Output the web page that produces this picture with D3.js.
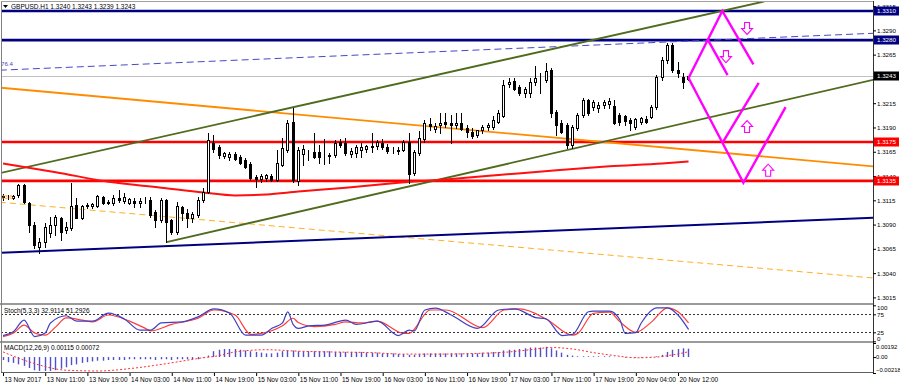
<!DOCTYPE html>
<html>
<head>
<meta charset="utf-8">
<script src="https://cdn.jsdelivr.net/npm/d3@7"></script>
<style>
body { margin: 0; background: #fff; }
svg { display: block; font-family: "Liberation Sans", Arial, sans-serif; }
</style>
</head>
<body>
<svg id="chart" width="900" height="387"></svg>
<script>
// GBPUSD H1 candles, bar 0 = 13 Nov 03:00
const opens = [1.3118,1.3118,1.3117,1.3120,1.3131,1.3112,1.3090,1.3067,1.3072,1.3081,
1.3090,1.3097,1.3084,1.3086,1.3110,1.3097,1.3109,1.3109,1.3109,1.3118,
1.3113,1.3112,1.3117,1.3114,1.3112,1.3114,1.3112,1.3115,1.3115,1.3103,
1.3095,1.3115,1.3095,1.3082,1.3108,1.3102,1.3097,1.3100,1.3115,1.3124,
1.3174,1.3170,1.3161,1.3160,1.3163,1.3160,1.3157,1.3152,1.3139,1.3137,
1.3138,1.3140,1.3136,1.3151,1.3167,1.3196,1.3135,1.3163,1.3165,1.3165,
1.3165,1.3165,1.3161,1.3162,1.3175,1.3174,1.3163,1.3164,1.3167,1.3168,
1.3171,1.3171,1.3174,1.3170,1.3167,1.3166,1.3167,1.3175,1.3143,1.3164,
1.3178,1.3194,1.3188,1.3193,1.3196,1.3195,1.3193,1.3195,1.3189,1.3185,
1.3182,1.3187,1.3191,1.3191,1.3196,1.3202,1.3235,1.3238,1.3232,1.3226,
1.3226,1.3237,1.3239,1.3239,1.3249,1.3206,1.3195,1.3193,1.3172,1.3189,
1.3203,1.3218,1.3211,1.3210,1.3213,1.3214,1.3212,1.3203,1.3202,1.3198,
1.3191,1.3196,1.3199,1.3201,1.3211,1.3242,1.3260,1.3275,1.3249,1.3242,
1.3240];
const highs = [1.3122,1.3120,1.3120,1.3132,1.3132,1.3113,1.3093,1.3076,1.3092,1.3098,
1.3100,1.3098,1.3093,1.3133,1.3117,1.3110,1.3112,1.3112,1.3120,1.3119,
1.3115,1.3120,1.3126,1.3123,1.3117,1.3117,1.3117,1.3118,1.3118,1.3105,
1.3117,1.3116,1.3096,1.3113,1.3109,1.3106,1.3103,1.3118,1.3128,1.3184,
1.3182,1.3172,1.3165,1.3165,1.3165,1.3162,1.3159,1.3154,1.3141,1.3142,
1.3142,1.3142,1.3167,1.3179,1.3198,1.3210,1.3170,1.3172,1.3167,1.3184,
1.3172,1.3178,1.3164,1.3177,1.3178,1.3179,1.3169,1.3172,1.3174,1.3172,
1.3184,1.3177,1.3178,1.3173,1.3170,1.3170,1.3177,1.3184,1.3167,1.3186,
1.3198,1.3200,1.3195,1.3205,1.3205,1.3203,1.3205,1.3205,1.3193,1.3189,
1.3187,1.3193,1.3195,1.3202,1.3208,1.3239,1.3241,1.3241,1.3234,1.3232,
1.3241,1.3253,1.3246,1.3256,1.3251,1.3208,1.3198,1.3195,1.3193,1.3205,
1.3220,1.3219,1.3218,1.3216,1.3218,1.3220,1.3218,1.3205,1.3203,1.3200,
1.3200,1.3201,1.3202,1.3213,1.3244,1.3263,1.3277,1.3277,1.3257,1.3246,
1.3243];
const lows = [1.3115,1.3116,1.3116,1.3118,1.3112,1.3082,1.3066,1.3061,1.3067,1.3077,
1.3079,1.3074,1.3081,1.3084,1.3097,1.3096,1.3107,1.3107,1.3108,1.3111,
1.3111,1.3110,1.3113,1.3112,1.3111,1.3108,1.3108,1.3112,1.3098,1.3088,
1.3093,1.3072,1.3080,1.3080,1.3095,1.3088,1.3093,1.3098,1.3113,1.3123,
1.3165,1.3159,1.3159,1.3157,1.3157,1.3152,1.3148,1.3136,1.3129,1.3134,
1.3135,1.3135,1.3135,1.3150,1.3165,1.3134,1.3131,1.3151,1.3157,1.3159,
1.3153,1.3152,1.3153,1.3160,1.3170,1.3162,1.3160,1.3160,1.3160,1.3165,
1.3165,1.3168,1.3168,1.3164,1.3164,1.3163,1.3166,1.3133,1.3141,1.3162,
1.3175,1.3187,1.3185,1.3184,1.3191,1.3174,1.3189,1.3187,1.3180,1.3179,
1.3180,1.3184,1.3187,1.3188,1.3195,1.3201,1.3232,1.3229,1.3223,1.3221,
1.3221,1.3234,1.3226,1.3237,1.3201,1.3182,1.3184,1.3169,1.3169,1.3187,
1.3201,1.3203,1.3208,1.3206,1.3210,1.3210,1.3194,1.3193,1.3193,1.3187,
1.3188,1.3194,1.3195,1.3200,1.3209,1.3239,1.3256,1.3247,1.3242,1.3231,
1.3239];
const closes = [1.3119,1.3118,1.3119,1.3131,1.3113,1.3090,1.3069,1.3072,1.3088,1.3090,
1.3098,1.3082,1.3088,1.3109,1.3097,1.3109,1.3110,1.3111,1.3119,1.3112,
1.3112,1.3117,1.3115,1.3118,1.3116,1.3112,1.3114,1.3115,1.3100,1.3095,
1.3115,1.3093,1.3082,1.3109,1.3102,1.3097,1.3101,1.3115,1.3124,1.3177,
1.3168,1.3162,1.3164,1.3163,1.3158,1.3153,1.3149,1.3138,1.3137,1.3140,
1.3141,1.3136,1.3153,1.3169,1.3195,1.3136,1.3167,1.3168,1.3165,1.3160,
1.3160,1.3165,1.3162,1.3174,1.3172,1.3164,1.3166,1.3170,1.3170,1.3171,
1.3170,1.3175,1.3170,1.3166,1.3167,1.3167,1.3175,1.3142,1.3165,1.3179,
1.3195,1.3192,1.3192,1.3195,1.3194,1.3193,1.3195,1.3188,1.3185,1.3181,
1.3187,1.3191,1.3193,1.3198,1.3205,1.3234,1.3237,1.3230,1.3226,1.3230,
1.3237,1.3241,1.3239,1.3248,1.3205,1.3193,1.3185,1.3172,1.3191,1.3203,
1.3218,1.3205,1.3216,1.3213,1.3216,1.3217,1.3195,1.3196,1.3197,1.3195,
1.3199,1.3200,1.3196,1.3211,1.3242,1.3260,1.3275,1.3249,1.3246,1.3237,
1.3243];

const timeIdx = [0,8,16,24,32,40,48,56,64,72,80,88,96,104,112,120,128];
const timeLabels = ['13 Nov 2017','13 Nov 11:00','13 Nov 19:00','14 Nov 03:00','14 Nov 11:00',
  '14 Nov 19:00','15 Nov 03:00','15 Nov 11:00','15 Nov 19:00','16 Nov 03:00','16 Nov 11:00',
  '16 Nov 19:00','17 Nov 03:00','17 Nov 11:00','17 Nov 19:00','20 Nov 04:00','20 Nov 12:00'];
const priceTicks = [1.3315,1.3290,1.3265,1.3240,1.3215,1.3190,1.3165,1.3140,1.3115,1.3090,1.3065,1.3040,1.3015];

// drawn objects: [bar, price]
const navyLevels = [1.3310, 1.3280];
const redLevels = [1.3175, 1.3135];
const lastPrice = 1.3243;
const greenUpper = [[-0.6,1.3143],[165,1.3345]];
const greenLower = [[31,1.3072],[165,1.3239]];
const orangeLine = [[-0.6,1.3231],[165,1.3150]];
const orangeDash = [[-0.6,1.3113],[165,1.3035]];
const blueDash = [[-0.6,1.3249],[165,1.3287]];
const navyLine = [[-0.6,1.3061],[165,1.3097]];
const maPoints = [[0,1.3153],[10,1.3144],[20,1.3134],[30,1.3128],[38,1.3123],[44,1.3120],[50,1.3121],
  [56,1.3124],[65,1.3128],[75,1.3133],[85,1.3137],[94,1.3141],[105,1.3146],[115,1.3150],[125,1.3153],[130,1.3155]];
const zigA = [[130,1.3241],[136.4,1.3310],[142.3,1.3255]];
const zigB = [[133.7,1.3280],[137.4,1.3244]];
const zigC = [[130,1.3241],[140.4,1.3133],[148.4,1.3211]];
const zigD = [[136.4,1.3174],[143.3,1.3236]];
const arrowsDown = [[141.1,1.3292],[137.1,1.3263]];
const arrowsUp = [[141.1,1.3191],[145.1,1.3146]];

// stochastic (5,3,3)
const stochK = [[0,16],[2,27],[4,59],[6,13],[8,23],[9,51],[12,71],[14,56],[17,56],[20,78],[23,62],[26,31],
  [28,31],[30,51],[34,54],[37,68],[40,90],[43,78],[46,17],[49,17],[51,36],[53,51],[54,82],[55,47],[56,36],
  [58,43],[61,45],[65,59],[67,47],[71,56],[75,16],[77,31],[78,29],[80,87],[82,92],[85,73],[90,36],[94,87],
  [97,90],[101,66],[103,62],[106,16],[108,19],[111,82],[112,84],[115,84],[117,59],[118,22],[120,24],
  [121,50],[124,93],[126,93],[128,73],[130,32.9]];
const stochD = [[0,13],[2,23],[4,45],[6,23],[8,17],[10,40],[12,65],[15,59],[17,54],[20,73],[24,56],[27,36],
  [28,29],[32,47],[37,64],[40,87],[44,73],[47,19],[49,22],[53,43],[55,64],[56,52],[59,41],[63,47],[65,54],
  [68,51],[71,56],[76,22],[77,22],[81,87],[84,87],[91,38],[95,87],[98,90],[103,62],[108,17],[109,22],
  [112,78],[115,81],[117,54],[120,25],[123,54],[126,93],[128,82],[130,51.3]];

// MACD (12,26,9)
const macdMain = [-0.0004,-0.0007,-0.0008,-0.0010,-0.0012,-0.0015,-0.0018,-0.0019,-0.0019,-0.0019,
-0.0018,-0.0016,-0.0014,-0.0011,-0.0010,-0.0008,-0.0007,-0.0006,-0.0005,-0.0005,
-0.0004,-0.0004,-0.0004,-0.0004,-0.0003,-0.0003,-0.0003,-0.0003,-0.0003,-0.0004,
-0.0003,-0.0003,-0.0004,-0.0003,-0.0003,-0.0003,-0.0003,-0.0003,-0.0001,0.0002,
0.0008,0.0010,0.0011,0.0011,0.0011,0.0010,0.0009,0.0008,0.0007,0.0006,
0.0005,0.0005,0.0006,0.0008,0.0009,0.0009,0.0008,0.0008,0.0008,0.0008,
0.0008,0.0008,0.0008,0.0007,0.0007,0.0007,0.0007,0.0007,0.0007,0.0006,
0.0006,0.0006,0.0005,0.0005,0.0005,0.0004,0.0004,0.0003,0.0003,0.0004,
0.0005,0.0005,0.0005,0.0005,0.0005,0.0005,0.0005,0.0005,0.0005,0.0005,
0.0005,0.0006,0.0006,0.0007,0.0007,0.0009,0.0010,0.0010,0.0011,0.0012,
0.0013,0.0013,0.0013,0.0014,0.0012,0.0009,0.0006,0.0003,0.0002,0.0001,
0.0001,0.0001,0.0001,0.0001,0.0001,0.0001,0.00003,0.00003,-0.0001,-0.0001,
-0.0001,-0.0001,0.00003,0.00003,0.0001,0.0003,0.0007,0.0010,0.0011,0.0012,
0.00115];
const macdSignal = [[0,0.0007],[6,-0.0009],[12,-0.0018],[18,-0.0019],[25,-0.0015],[31,-0.0009],[37,-0.0002],
  [41,0.0002],[44,0.0007],[50,0.0010],[56,0.0008],[62,0.0007],[70,0.0006],[76,0.0004],[82,0.0004],[90,0.0005],
  [96,0.0007],[100,0.0010],[104,0.0013],[108,0.0011],[112,0.0006],[116,0.0002],[120,-0.0001],[124,0],
  [127,0.0003],[130,0.00072]];

const svg = d3.select('#chart');
const plotRight = 873;
const font = '"Liberation Sans", Arial, sans-serif';
const fs = 6.2;
const fsText = 6.5;

const x = d3.scaleLinear().domain([0, 128]).range([3, 678]);
const yMain = d3.scaleLinear().domain([1.3015, 1.3315]).range([297.4, 6.1]);
const yStoch = d3.scaleLinear().domain([0, 100]).range([341.3, 305.3]);
const yMacd = d3.scaleLinear().domain([-0.00218, 0.00192]).range([373, 343]);

const defs = svg.append('defs');
const addClip = (id, top, bottom) => defs.append('clipPath').attr('id', id)
  .append('rect').attr('x', 1).attr('y', top).attr('width', plotRight - 1).attr('height', bottom - top);
addClip('clipMain', 1, 303);
addClip('clipStoch', 305, 341);
addClip('clipMacd', 343, 373);

svg.append('rect').attr('width', 900).attr('height', 387).attr('fill', '#fff');

const main = svg.append('g').attr('clip-path', 'url(#clipMain)');
const lineGen = d3.line().x(d => x(d[0])).y(d => yMain(d[1]));

const drawSeg = (pts, color, width, dash) => {
  const p = main.append('path').datum(pts).attr('d', lineGen)
    .attr('fill', 'none').attr('stroke', color).attr('stroke-width', width);
  if (dash) p.attr('stroke-dasharray', dash);
  return p;
};

// horizontal levels
navyLevels.forEach(p => main.append('line').attr('x1', 0).attr('x2', plotRight)
  .attr('y1', yMain(p)).attr('y2', yMain(p)).attr('stroke', '#000080').attr('stroke-width', 2.6));
redLevels.forEach(p => main.append('line').attr('x1', 0).attr('x2', plotRight)
  .attr('y1', yMain(p)).attr('y2', yMain(p)).attr('stroke', '#ff0000').attr('stroke-width', 2.6));
main.append('line').attr('x1', 0).attr('x2', plotRight)
  .attr('y1', Math.round(yMain(lastPrice)) + 0.5).attr('y2', Math.round(yMain(lastPrice)) + 0.5)
  .attr('stroke', '#c0c0c0').attr('stroke-width', 1);

// trend lines
drawSeg(blueDash, '#4848c8', 1, '7,4');
drawSeg(orangeDash, '#ffb020', 1, '6,4');
drawSeg(navyLine, '#000080', 2);
drawSeg(orangeLine, '#ff8c00', 1.8);
drawSeg(greenUpper, '#4f6b1e', 1.8);
drawSeg(greenLower, '#4f6b1e', 1.8);

// moving average
main.append('path').datum(maPoints)
  .attr('d', d3.line().x(d => x(d[0])).y(d => yMain(d[1])).curve(d3.curveMonotoneX))
  .attr('fill', 'none').attr('stroke', '#ff1010').attr('stroke-width', 2);

// candles
const candles = main.append('g');
opens.forEach((o, i) => {
  const c = closes[i];
  const cx = Math.floor(x(i));
  candles.append('line').attr('x1', cx + 0.5).attr('x2', cx + 0.5)
    .attr('y1', Math.round(yMain(highs[i]))).attr('y2', Math.round(yMain(lows[i])) + 1)
    .attr('stroke', '#000').attr('stroke-width', 1);
  const top = Math.round(yMain(Math.max(o, c)));
  const bot = Math.round(yMain(Math.min(o, c)));
  candles.append('rect').attr('x', cx - 0.5).attr('y', top + 0.5)
    .attr('width', 2).attr('height', Math.max(bot - top, 0))
    .attr('fill', c >= o ? '#fff' : '#000').attr('stroke', '#000').attr('stroke-width', 1);
});

// forecast zigzag
[zigA, zigB, zigC, zigD].forEach(z => drawSeg(z, '#ff00ff', 2.4));
const arrowPath = (cx, cy, down) => {
  const s = down ? 1 : -1;
  return `M${cx - 2.5},${cy - 6 * s}L${cx + 2.5},${cy - 6 * s}L${cx + 2.5},${cy}L${cx + 5.5},${cy}` +
    `L${cx},${cy + 6 * s}L${cx - 5.5},${cy}L${cx - 2.5},${cy}Z`;
};
arrowsDown.forEach(a => main.append('path').attr('d', arrowPath(x(a[0]), yMain(a[1]), true))
  .attr('fill', '#fff').attr('stroke', '#ff00ff').attr('stroke-width', 1.1));
arrowsUp.forEach(a => main.append('path').attr('d', arrowPath(x(a[0]), yMain(a[1]), false))
  .attr('fill', '#fff').attr('stroke', '#ff00ff').attr('stroke-width', 1.1));

// fibo labels
main.append('text').attr('x', 1).attr('y', yMain(blueDash[0][1]) - 4).text('76.4')
  .attr('font-size', fs).attr('fill', '#4848c8');
main.append('text').attr('x', 1).attr('y', yMain(orangeDash[0][1]) - 3).text('23.6')
  .attr('font-size', fs).attr('fill', '#ff9a00');

// header
svg.append('path').attr('d', 'M3,5L8,5L5.5,8Z').attr('fill', '#000');
svg.append('text').attr('x', 11).attr('y', 9).attr('font-size', fsText)
  .text('GBPUSD.H1  1.3240 1.3243 1.3239 1.3243');

// stochastic panel
const stoch = svg.append('g').attr('clip-path', 'url(#clipStoch)');
[75, 25].forEach(v => stoch.append('line').attr('x1', 1).attr('x2', plotRight)
  .attr('y1', Math.round(yStoch(v)) + 0.5).attr('y2', Math.round(yStoch(v)) + 0.5)
  .attr('stroke', '#000').attr('stroke-width', 0.8).attr('stroke-dasharray', '2,2'));
const stochLine = d3.line().x(d => x(d[0])).y(d => yStoch(d[1])).curve(d3.curveMonotoneX);
stoch.append('path').datum(stochD).attr('d', stochLine).attr('fill', 'none')
  .attr('stroke', '#ff3c3c').attr('stroke-width', 1.2);
stoch.append('path').datum(stochK).attr('d', stochLine).attr('fill', 'none')
  .attr('stroke', '#4040c0').attr('stroke-width', 1.2);
svg.append('text').attr('x', 4).attr('y', 313).attr('font-size', fsText).text('Stoch(5,3,3) 32.9114 51.2926');

// MACD panel
const macd = svg.append('g').attr('clip-path', 'url(#clipMacd)');
macdMain.forEach((v, i) => {
  const cx = Math.floor(x(i)) + 0.5;
  macd.append('line').attr('x1', cx).attr('x2', cx).attr('y1', yMacd(0)).attr('y2', yMacd(v))
    .attr('stroke', '#5050c8').attr('stroke-width', 1.4);
});
macd.append('path').datum(macdSignal)
  .attr('d', d3.line().x(d => x(d[0])).y(d => yMacd(d[1])).curve(d3.curveMonotoneX))
  .attr('fill', 'none').attr('stroke', '#ff3030').attr('stroke-width', 1).attr('stroke-dasharray', '2,2');
svg.append('text').attr('x', 4).attr('y', 350).attr('font-size', fsText).text('MACD(12,26,9) 0.00115 0.00072');

// frames
svg.append('rect').attr('x', 0).attr('y', 303).attr('width', plotRight + 1).attr('height', 2).attr('fill', '#9a9a9a');
svg.append('rect').attr('x', 0).attr('y', 341).attr('width', plotRight + 1).attr('height', 2).attr('fill', '#9a9a9a');
svg.append('line').attr('x1', 1.5).attr('x2', 1.5).attr('y1', 1).attr('y2', 373).attr('stroke', '#808080');
svg.append('line').attr('x1', 1).attr('x2', plotRight).attr('y1', 1.5).attr('y2', 1.5).attr('stroke', '#a0a0a0');
svg.append('line').attr('x1', 1).attr('x2', plotRight + 1).attr('y1', 372.5).attr('y2', 372.5).attr('stroke', '#606060');
svg.append('line').attr('x1', plotRight + 0.5).attr('x2', plotRight + 0.5).attr('y1', 1).attr('y2', 373).attr('stroke', '#333');

// axes
const styleAxis = g => {
  g.select('.domain').remove();
  g.attr('font-size', fs).attr('font-family', font);
  g.selectAll('line').attr('stroke', '#000');
  g.selectAll('text').attr('fill', '#000');
};
// the 1.3240 label sits under the current price tag
svg.append('g').attr('transform', `translate(${plotRight},0)`)
  .call(d3.axisRight(yMain).tickValues(priceTicks)
    .tickFormat(d => Math.abs(d - lastPrice) < 0.0005 ? '' : d3.format('.4f')(d)).tickSize(3).tickPadding(1))
  .call(styleAxis);
svg.append('g').attr('transform', `translate(${plotRight},0)`)
  .call(d3.axisRight(yStoch).tickValues([100, 75, 25, 0]).tickSize(3).tickPadding(1))
  .call(styleAxis)
  .call(g => g.selectAll('text').attr('dy', d => d === 100 ? '0.75em' : d === 0 ? '-0.1em' : '0.32em'));
svg.append('g').attr('transform', `translate(${plotRight},0)`)
  .call(d3.axisRight(yMacd).tickValues([0.00192, 0, -0.00218])
    .tickFormat(d => d === 0 ? '0.00' : d3.format('.5f')(d)).tickSize(3).tickPadding(0))
  .call(styleAxis)
  .attr('font-size', 5.9)
  .call(g => g.selectAll('text').attr('dy', d => d > 0 ? '0.85em' : d < 0 ? '-0.3em' : '0.32em'));
svg.append('g').attr('transform', 'translate(0,373)')
  .call(d3.axisBottom(x).tickValues(timeIdx).tickFormat((d, i) => timeLabels[i]).tickSize(3).tickPadding(1))
  .call(styleAxis)
  .attr('font-size', fsText)
  .call(g => g.selectAll('text').attr('text-anchor', 'start').attr('x', 1));

// price tags
const tag = (p, color) => {
  const g = svg.append('g');
  g.append('rect').attr('x', plotRight + 1).attr('y', Math.round(yMain(p)) - 4.5)
    .attr('width', 25).attr('height', 9).attr('fill', color);
  g.append('text').attr('x', plotRight + 4).attr('y', yMain(p)).attr('dy', '0.34em')
    .attr('font-size', fs).attr('fill', '#fff').text(d3.format('.4f')(p));
};
navyLevels.forEach(p => tag(p, '#000080'));
redLevels.forEach(p => tag(p, '#ff0000'));
tag(lastPrice, '#000');
</script>
</body>
</html>
